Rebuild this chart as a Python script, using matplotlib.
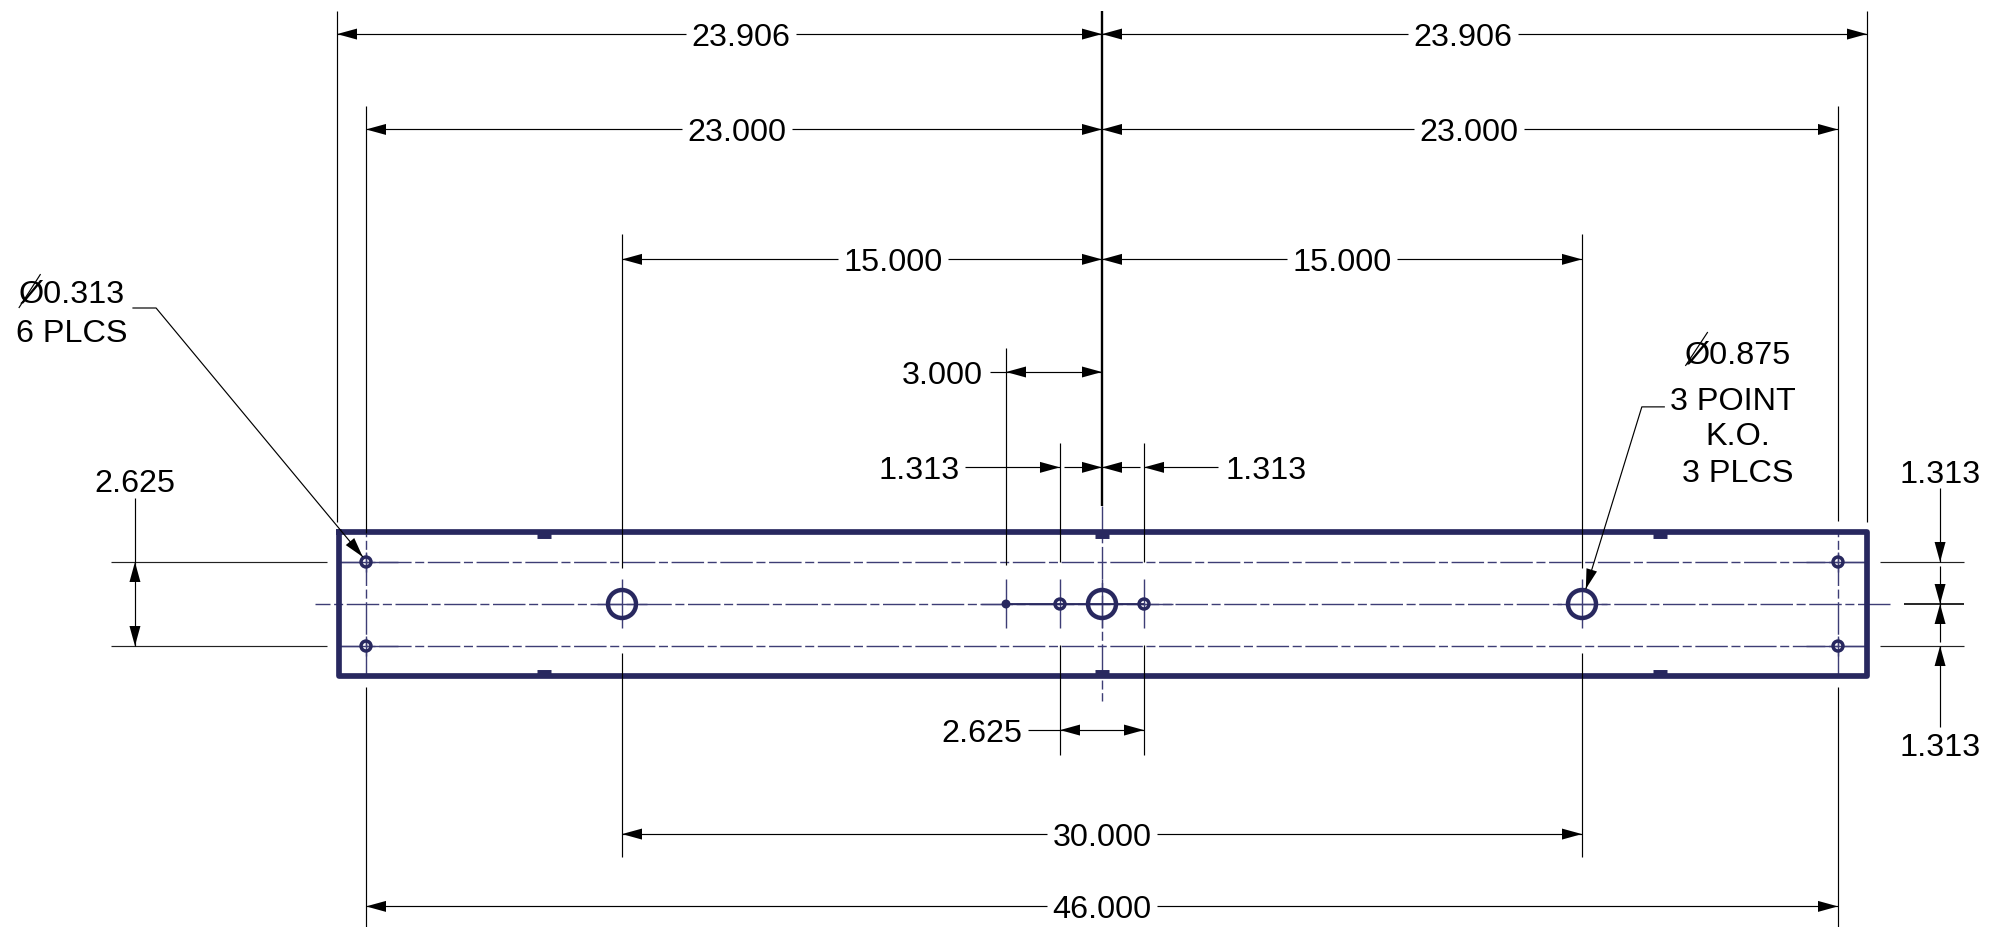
import matplotlib
matplotlib.use('Agg')
import matplotlib.pyplot as plt
from matplotlib.patches import Circle

plt.rcParams['font.family'] = ['Liberation Sans', 'DejaVu Sans']
plt.rcParams['lines.scale_dashes'] = False

NAVY = '#28285f'
CL = '#3d3d75'
PX = 1 / 32.0  # drawing is 32 px to the inch

# part outline and features, all in inches from the centre of the part
box_left, box_right = -23.85, 23.9
box_top, box_bottom = 2.25, -2.25
hole_rows = [1.313, -1.313]
mount_x = [-23.0, 23.0]
small_x = [-1.313, 1.313]
big_x = [-15.0, 0.0, 15.0]
dot_x = [-3.0]
notch_x = [-17.44, 0.0, 17.44]

# horizontal dimensions: label, y, from x, to x, text x
hdims = [
    ('23.906', 17.81, -23.906, 0, -11.28),
    ('23.906', 17.81, 0, 23.906, 11.27),
    ('23.000', 14.83, -23.0, 0, -11.41),
    ('23.000', 14.83, 0, 23.0, 11.47),
    ('15.000', 10.77, -15.0, 0, -6.53),
    ('15.000', 10.77, 0, 15.0, 7.5),
    ('30.000', -7.19, -15.0, 15.0, 0),
    ('46.000', -9.45, -23.0, 23.0, 0),
]

# extension lines: x, y start, y end
ext_lines = [
    (-23.906, 18.53, 2.57),
    (23.906, 18.53, 2.57),
    (-23.0, 15.56, 2.22),
    (23.0, 15.56, 2.59),
    (-23.0, -2.58, -10.1),
    (23.0, -2.58, -10.1),
    (-15.0, 11.56, 1.125),
    (15.0, 11.56, 1.125),
    (-15.0, -1.53, -7.9),
    (15.0, -1.53, -7.9),
    (-3.0, 8.0, 1.22),
    (-1.313, 5.03, 1.31),
    (1.313, 5.03, 1.31),
    (-1.313, -1.28, -4.72),
    (1.313, -1.28, -4.72),
]
center_ext = (0, 18.53, 3.06)

# side witness lines: y, x start, x end
side_lines = [
    (1.313, -30.97, -24.22),
    (-1.313, -30.97, -24.22),
    (1.313, 24.31, 26.94),
    (-1.313, 24.31, 26.94),
]

fig = plt.figure(figsize=(19.89, 9.28), dpi=100)
ax = fig.add_axes([0, 0, 1, 1])
ax.set_xlim(-1102 * PX, 887 * PX)
ax.set_ylim(-323 * PX, 605 * PX)
ax.axis('off')


def arrow(x, y, dx, dy):
    # filled head with its tip on x, y, pointing along dx, dy
    ln, hw = 20 * PX, 5.5 * PX
    bx, by = x - dx * ln, y - dy * ln
    ax.fill([x, bx - dy * hw, bx + dy * hw], [y, by + dx * hw, by - dx * hw],
            color='k', lw=0, zorder=6)


def line(xs, ys, lw=0.85, color='k', z=5, **kw):
    ax.plot(xs, ys, color=color, lw=lw, zorder=z, solid_capstyle='butt', **kw)


def label(x, y, s):
    ax.text(x, y - 11 * PX, s, ha='center', va='baseline', fontsize=23.3,
            color='k', zorder=7)


# centre lines
dash = (23.4, 2.6, 6.5, 2.6)
for y, x0, x1, off in [(1.313, 339, 1866, 6.6), (-1.313, 339, 1866, 6.6), (0, 315, 1892, 12.6)]:
    ax.plot([(x0 - 1102) * PX, (x1 - 1102) * PX], [y, y], color=CL, lw=1.0, zorder=2,
            linestyle=(off, dash), dash_capstyle='butt')
for x in mount_x:
    ax.plot([x, x], [2.25, -2.25], color=CL, lw=1.0, zorder=2, linestyle=(20, dash), dash_capstyle='butt')
ax.plot([0, 0], [3.06, -3.03], color=CL, lw=1.0, zorder=2, linestyle=(6, dash), dash_capstyle='butt')

# solid crosshair parts round the holes
for x in dot_x + small_x + big_x:
    line([x, x], [0.78, -0.75], lw=1.0, color=CL, z=3)
for x in [-15.0, 15.0]:
    line([x - 0.78, x + 0.78], [0, 0], lw=1.0, color=CL, z=3)
line([-3.78, 2.22], [0, 0], lw=1.0, color=CL, z=3)
line([-3.0, 1.313], [0, 0], lw=1.3, color=NAVY, z=3)
for y in hole_rows:
    line([-23.85, -22.0], [y, y], lw=1.0, color=CL, z=3)
    line([22.0, 23.9], [y, y], lw=1.0, color=CL, z=3)
    line([-23, -23], [y + 0.3, y - 0.3], lw=1.0, color=CL, z=3)
    line([23, 23], [y + 0.3, y - 0.3], lw=1.0, color=CL, z=3)

# outline
ax.plot([box_left, box_right, box_right, box_left, box_left],
        [box_top, box_top, box_bottom, box_bottom, box_top],
        color=NAVY, lw=4.1, solid_joinstyle='round', zorder=4)
for x in notch_x:
    line([x - 0.21, x + 0.21], [box_top - 0.1, box_top - 0.1], lw=5.0, color=NAVY, z=4)
    line([x - 0.21, x + 0.21], [box_bottom + 0.1, box_bottom + 0.1], lw=5.0, color=NAVY, z=4)

# holes
for x in mount_x:
    for y in hole_rows:
        ax.add_patch(Circle((x, y), 0.155, fill=False, ec=NAVY, lw=2.5, zorder=5))
for x in small_x:
    ax.add_patch(Circle((x, 0), 0.155, fill=False, ec=NAVY, lw=2.5, zorder=5))
for x in big_x:
    ax.add_patch(Circle((x, 0), 0.4375, fill=False, ec=NAVY, lw=3.2, zorder=5))
for x in dot_x:
    ax.add_patch(Circle((x, 0), 0.14, fc=NAVY, ec='none', zorder=5))

# extension lines
for x, y0, y1 in ext_lines:
    line([x, x], [y0, y1])
line([0, 0], list(center_ext[1:]), lw=1.7)
for y, x0, x1 in side_lines:
    line([x0, x1], [y, y], color='#222222')
line([25.06, 26.94], [0, 0], lw=1.2)

# long horizontal dimensions
gap = 1.72
for s, y, x0, x1, tx in hdims:
    line([x0, tx - gap], [y, y])
    line([tx + gap, x1], [y, y])
    arrow(x0, y, -1, 0)
    arrow(x1, y, 1, 0)
    label(tx, y, s)

# 3.000
line([-3.5, 0], [7.25, 7.25])
arrow(-3.0, 7.25, -1, 0)
arrow(0, 7.25, 1, 0)
label(-5.0, 7.25, '3.000')

# the two 1.313 above the part
line([-4.28, -1.313], [4.27, 4.27])
arrow(-1.313, 4.27, 1, 0)
line([-1.19, 0], [4.27, 4.27])
arrow(0, 4.27, 1, 0)
arrow(0, 4.27, -1, 0)
line([0, 1.19], [4.27, 4.27])
arrow(1.313, 4.27, -1, 0)
line([1.313, 3.63], [4.27, 4.27])
label(-5.72, 4.27, '1.313')
label(5.12, 4.27, '1.313')

# 2.625 under the part
line([-2.31, 1.313], [-3.94, -3.94])
arrow(-1.313, -3.94, -1, 0)
arrow(1.313, -3.94, 1, 0)
label(-3.76, -3.94, '2.625')

# 2.625 at the left
line([-30.22, -30.22], [3.31, -1.313])
arrow(-30.22, 1.313, 0, 1)
arrow(-30.22, -1.313, 0, -1)
label(-30.22, 3.87, '2.625')

# 1.313 stack at the right
vx = 26.19
line([vx, vx], [3.63, 1.313])
arrow(vx, 1.313, 0, -1)
line([vx, vx], [1.19, -1.19])
arrow(vx, 0, 0, -1)
arrow(vx, 0, 0, 1)
arrow(vx, -1.313, 0, 1)
line([vx, vx], [-1.313, -3.84])
label(vx, 4.17, '1.313')
label(vx, -4.38, '1.313')

# leaders
line([-30.3, -29.56, -23.1], [9.25, 9.25, 1.47], lw=0.85)
arrow(-23.1, 1.47, 0.64, -0.77)
line([17.59, 16.87, 15.12], [6.16, 6.16, 0.47], lw=0.85)
arrow(15.12, 0.47, -0.295, -0.955)

label(-32.2, 9.8, 'Ø0.313')
label(-32.2, 8.55, '6 PLCS')
label(19.88, 7.9, 'Ø0.875')
label(19.72, 6.45, '3 POINT')
label(19.87, 5.34, 'K.O.')
label(19.87, 4.2, '3 PLCS')

# long slash of the diameter signs
line([-33.85, -33.17], [9.25, 10.31], lw=0.85)
line([18.23, 18.93], [7.44, 8.5], lw=0.85)

fig.savefig('out.png', dpi=100)
